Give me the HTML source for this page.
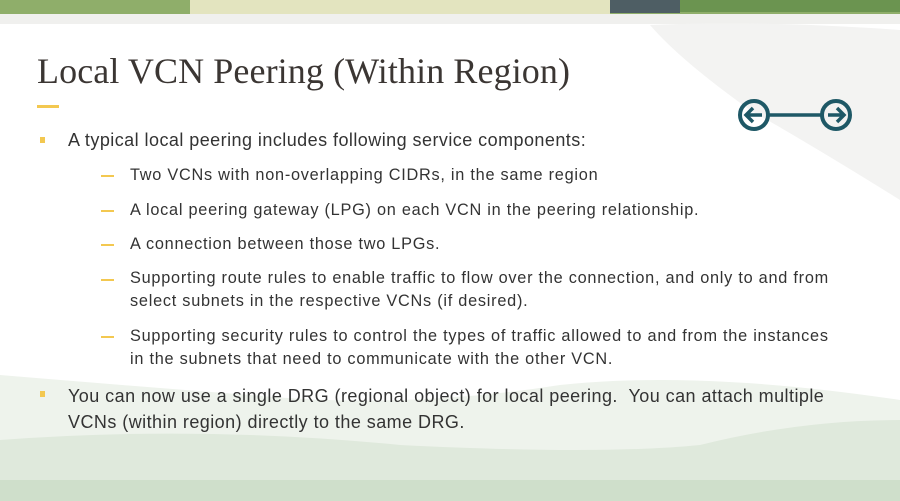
<!DOCTYPE html>
<html><head><meta charset="utf-8"><style>
body{margin:0;width:900px;height:501px;overflow:hidden;background:#fff;position:relative;font-family:"Liberation Sans",sans-serif;color:#3a3a3a}
.abs{position:absolute}
.title{left:37px;top:50px;font-family:"Liberation Serif",serif;font-size:36px;color:#3b3633;white-space:nowrap;letter-spacing:0.1px}
.bar{left:37px;top:105px;width:22px;height:3px;background:#f3c850}
.l1{font-size:18px;left:68px;white-space:nowrap;color:#333;letter-spacing:0.45px}
.b1{left:40px;width:5px;height:6px;background:#f3c850}
.l2{font-size:16.3px;left:130px;white-space:nowrap;line-height:23px;color:#333;letter-spacing:0.75px}
.d2{left:101px;width:13px;height:1.5px;background:#f3c850}
</style></head><body>
<svg class="abs" style="left:0;top:0" width="900" height="501">
<rect x="0" y="0" width="900" height="16" fill="#8fae6a"/>
<rect x="190" y="0" width="420" height="14" fill="#e3e4bf"/>
<rect x="610" y="0" width="70" height="13" fill="#4e5e64"/>
<rect x="680" y="0" width="220" height="12" fill="#6b9450"/>
<rect x="0" y="14" width="900" height="10" fill="#f0f0ee"/>
<path d="M650 25 Q760 20 900 30 L900 200 Q820 150 750 110 Q680 60 650 25Z" fill="#f3f3f2"/>
<path d="M0 375 Q120 385 250 395 Q400 410 560 385 Q700 370 900 400 L900 501 L0 501Z" fill="#eef3ec"/>
<path d="M0 440 Q200 425 400 445 Q600 455 700 445 Q800 420 900 420 L900 501 L0 501Z" fill="#dfe9dc"/>
<rect x="0" y="480" width="900" height="21" fill="#cfdfcb"/>
</svg>
<div class="abs title">Local VCN Peering (Within Region)</div>
<div class="abs bar"></div>
<svg class="abs" style="left:736px;top:96px" width="120" height="40">
<circle cx="18" cy="19" r="14" fill="none" stroke="#1e5866" stroke-width="4"/>
<path d="M26 19 H11 M17 12 L10 19 L17 26" fill="none" stroke="#1e5866" stroke-width="3.5"/>
<line x1="33" y1="19" x2="85" y2="19" stroke="#1e5866" stroke-width="3.5"/>
<circle cx="100" cy="19" r="14" fill="none" stroke="#1e5866" stroke-width="4"/>
<path d="M92 19 H107 M101 12 L108 19 L101 26" fill="none" stroke="#1e5866" stroke-width="3.5"/>
</svg>
<div class="abs b1" style="top:137px"></div>
<div class="abs l1" style="top:130px">A typical local peering includes following service components:</div>
<div class="abs d2" style="top:175px"></div>
<div class="abs l2" style="top:164px">Two VCNs with non-overlapping CIDRs, in the same region</div>
<div class="abs d2" style="top:210px"></div>
<div class="abs l2" style="top:199px">A local peering gateway (LPG) on each VCN in the peering relationship.</div>
<div class="abs d2" style="top:244px"></div>
<div class="abs l2" style="top:233px">A connection between those two LPGs.</div>
<div class="abs d2" style="top:279px"></div>
<div class="abs l2" style="top:267px">Supporting route rules to enable traffic to flow over the connection, and only to and from<br>select subnets in the respective VCNs (if desired).</div>
<div class="abs d2" style="top:336px"></div>
<div class="abs l2" style="top:325px">Supporting security rules to control the types of traffic allowed to and from the instances<br>in the subnets that need to communicate with the other VCN.</div>
<div class="abs b1" style="top:391px"></div>
<div class="abs l1" style="top:383px;line-height:26px">You can now use a single DRG (regional object) for local peering.&nbsp; You can attach multiple<br>VCNs (within region) directly to the same DRG.</div>
</body></html>
